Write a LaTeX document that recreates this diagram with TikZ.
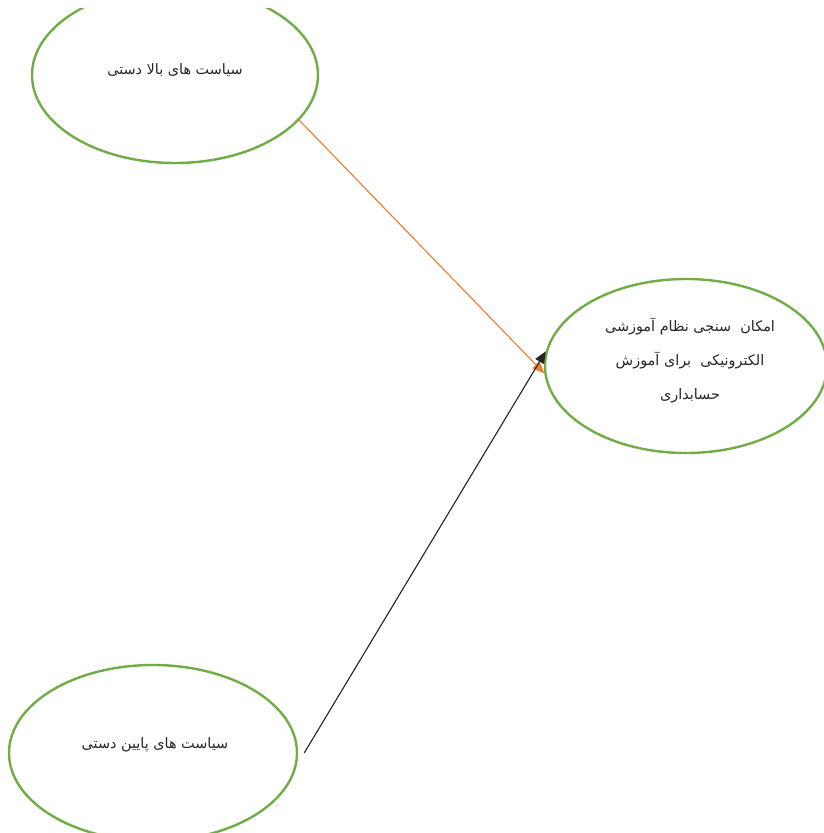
\documentclass[tikz,border=0pt]{standalone}
\usepackage{fontspec}
\newfontfamily\arabicfont[Script=Arabic]{DejaVu Sans}
\TeXXeTstate=1
\usetikzlibrary{arrows.meta,shapes.geometric}
\definecolor{ogreen}{HTML}{70AD47}
\definecolor{oorange}{HTML}{ED7D31}
\begin{document}
\begin{tikzpicture}[x=1pt,y=-1pt,
  oval/.style={ellipse,draw=ogreen,line width=2.4pt,minimum width=286pt,minimum height=176pt,inner sep=0pt},
  lbl/.style={font=\arabicfont\fontsize{14.4}{34}\selectfont,align=center,inner sep=0pt,text=black!85},
  link/.style={line width=1.1pt,-{Triangle[length=12pt,width=10pt]}}]
\useasboundingbox (0,0) rectangle (824,833);
\clip (0,8) rectangle (824,833);
\node[oval] (top) at (175,75) {};
\node[oval,minimum width=282pt,minimum height=174pt] (right) at (686,366) {};
\node[oval,minimum width=288pt] (bot) at (153,753) {};
\node[lbl] (ttop) at (175,70) {\beginR سیاست های بالا دستی\endR};
\node[lbl] (tright) at (690,360) {\beginR امکان\ \ سنجی نظام آموزشی\endR\\\beginR الکترونیکی\ \ برای آموزش\endR\\\beginR حسابداری\endR};
\node[lbl] (tbot) at (155,745) {\beginR سیاست های پایین دستی\endR};
\draw[link,draw=oorange,fill=oorange] (top.-20) -- (right.183.7);
\draw[link,draw=black!85,fill=black] ([xshift=6pt]bot.east) -- (right.174);
\end{tikzpicture}
\end{document}
